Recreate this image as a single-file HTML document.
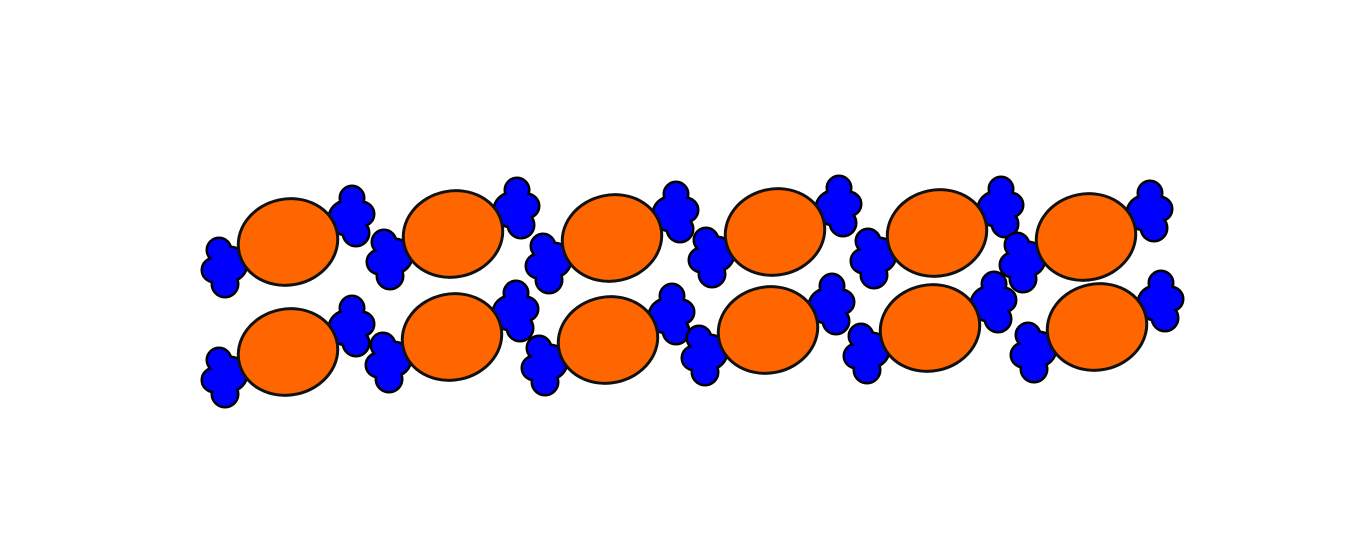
<!DOCTYPE html>
<html><head><meta charset="utf-8"><style>html,body{margin:0;padding:0;background:#fff;}svg{display:block;}</style></head>
<body>
<svg id="s" width="1345" height="560" viewBox="0 0 1345 560" xmlns="http://www.w3.org/2000/svg"></svg>
<script>
const candyX = [288, 453, 612, 775, 937, 1086, 288, 452, 608, 768, 930, 1097];
const candyY = [242, 234, 238, 232, 233, 237, 352, 337, 340, 330, 328, 327];
const NS = 'http://www.w3.org/2000/svg';
const svg = document.getElementById('s');
const lobes = [[-58,22,16],[-69,8,11],[-74,28,11],[-63,42,12],
               [58,-24,16],[64,-44,11],[74,-28,11],[68,-9,12]];
function mk(tag, attrs, parent){const e=document.createElementNS(NS,tag);for(const k in attrs)e.setAttribute(k,attrs[k]);parent.appendChild(e);return e;}
for(let i=0;i<candyX.length;i++){
  const g=mk('g',{transform:`translate(${candyX[i]},${candyY[i]})`},svg);
  
  
  lobes.forEach(l=>mk('circle',{cx:l[0],cy:l[1],r:l[2],fill:'#000',stroke:'#000','stroke-width':5},g));
  lobes.forEach(l=>mk('circle',{cx:l[0],cy:l[1],r:l[2],fill:'#0000ff'},g));
  mk('ellipse',{cx:0,cy:0,rx:50,ry:43,transform:'rotate(-12)',fill:'#ff6600',stroke:'#111','stroke-width':3},g);
}
</script>
</body></html>
